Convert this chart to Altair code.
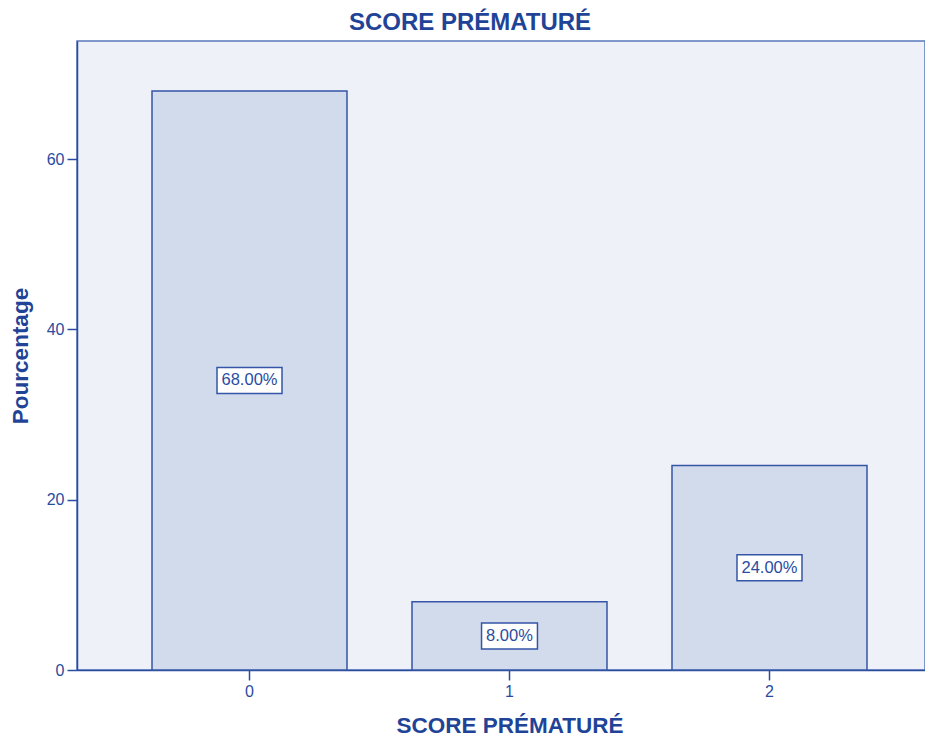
import altair as alt
import pandas as pd

categories = ["0", "1", "2"]
percentages = [68.0, 8.0, 24.0]
labels = ["68.00%", "8.00%", "24.00%"]
y_ticks = [0, 20, 40, 60]

BLUE = "#2a4c9f"
TITLE_BLUE = "#1f4497"

df = pd.DataFrame({"cat": categories, "pct": percentages, "label": labels})
df["mid"] = df["pct"] / 2.0
# box shape: half-width relative to the widest label (6 chars)
def box_path(lbl):
    w = 1.0 if len(lbl) >= 6 else 0.86
    h = 0.4
    return f"M{-w},{-h}L{w},{-h}L{w},{h}L{-w},{h}Z"
df["shape"] = [box_path(l) for l in labels]

x_enc = alt.X(
    "cat:N",
    sort=categories,
    scale=alt.Scale(paddingInner=0.25, paddingOuter=0.2558, align=0.5639),
    axis=alt.Axis(
        title="SCORE PRÉMATURÉ",
        labelAngle=0,
        labelFont="Liberation Sans",
        labelFontSize=16,
        labelColor=BLUE,
        labelPadding=3,
        tickColor=BLUE,
        tickSize=10,
        tickWidth=1.5,
        domainColor=BLUE,
        domainWidth=1.5,
        titleFont="Liberation Sans",
        titleFontSize=22.5,
        titleFontWeight="bold",
        titleColor=TITLE_BLUE,
        titleX=432.5,
        titleY=55,
        titleBaseline="middle",
        titleAlign="center",
    ),
)

y_scale = alt.Scale(domain=[0, 73.86], nice=False, zero=True)
y_axis = alt.Axis(
    title="Pourcentage",
    values=y_ticks,
    grid=False,
    labelFont="Liberation Sans",
    labelFontSize=16,
    labelColor=BLUE,
    labelPadding=3,
    tickColor=BLUE,
    tickSize=10,
    tickWidth=1.5,
    domainColor=BLUE,
    domainWidth=1.5,
    titleFont="Liberation Sans",
    titleFontSize=22.5,
    titleFontWeight="bold",
    titleColor=TITLE_BLUE,
    titleAngle=-90,
    titleX=-57,
    titleY=314.5,
    titleBaseline="middle",
    titleAlign="center",
)

bars = alt.Chart(df).mark_bar(
    fill="#d2dbec", stroke="#3556a6", strokeWidth=1.5
).encode(
    x=x_enc,
    y=alt.Y("pct:Q", scale=y_scale, axis=y_axis),
)

boxes = alt.Chart(df).mark_point(
    filled=True, fill="white", stroke="#3556a6", strokeWidth=1.5, opacity=1, size=4225
).encode(
    x=alt.X("cat:N", sort=categories),
    y=alt.Y("mid:Q", scale=y_scale),
    shape=alt.Shape("shape:N", scale=None, legend=None),
)

texts = alt.Chart(df).mark_text(
    font="Liberation Sans", fontSize=16.5, color=BLUE, baseline="middle", align="center"
).encode(
    x=alt.X("cat:N", sort=categories),
    y=alt.Y("mid:Q", scale=y_scale),
    text="label:N",
)

chart = alt.layer(bars, boxes, texts).properties(
    width=848,
    height=629,
    title=alt.TitleParams(
        text="SCORE PRÉMATURÉ",
        font="Liberation Sans",
        fontSize=24,
        fontWeight="bold",
        color=TITLE_BLUE,
        anchor="middle",
        dx=-31,
        offset=6,
    ),
    autosize=alt.AutoSizeParams(type="none"),
    padding={"left": 69, "top": 33, "right": 0, "bottom": 66},
).configure(
    background="white"
).configure_view(
    fill="#eef2f8", stroke="#5a78bb", strokeWidth=1.5
)

chart.save("out.html", embed_options={"renderer": "svg", "actions": False})
